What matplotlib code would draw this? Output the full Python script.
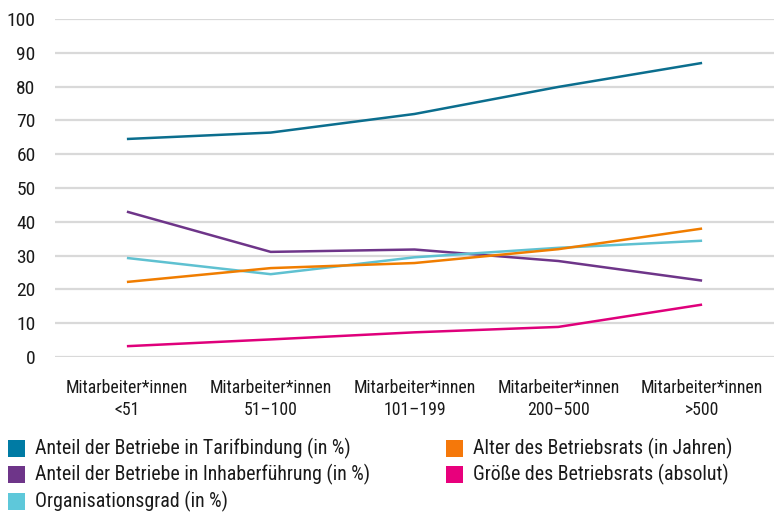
import matplotlib
matplotlib.use("Agg")
import matplotlib.pyplot as plt
from matplotlib.patches import Rectangle
from matplotlib import font_manager

names = {f.name for f in font_manager.fontManager.ttflist}
font = next((n for n in ["Roboto Condensed", "Archivo Narrow", "Asap Condensed",
                         "Barlow Semi Condensed", "Liberation Sans Narrow"] if n in names), "DejaVu Sans")
plt.rcParams["font.family"] = [font, "DejaVu Sans"]

categories = ["Mitarbeiter*innen\n<51", "Mitarbeiter*innen\n51–100", "Mitarbeiter*innen\n101–199",
              "Mitarbeiter*innen\n200–500", "Mitarbeiter*innen\n>500"]
tarif = [64.5, 66.4, 71.9, 79.9, 87.0]
inhaber = [43.0, 31.1, 31.8, 28.4, 22.6]
organisation = [29.3, 24.5, 29.5, 32.3, 34.4]
alter = [22.2, 26.3, 27.8, 31.9, 38.0]
groesse = [3.2, 5.2, 7.3, 8.9, 15.5]

series = [
    ("Anteil der Betriebe in Tarifbindung (in %)", tarif, "#0b6e8e", "#007ba4"),
    ("Anteil der Betriebe in Inhaberführung (in %)", inhaber, "#6e3589", "#6e3589"),
    ("Organisationsgrad (in %)", organisation, "#5fc1d1", "#5ec8da"),
    ("Alter des Betriebsrats (in Jahren)", alter, "#f07d00", "#f5780a"),
    ("Größe des Betriebsrats (absolut)", groesse, "#df007b", "#e8007c"),
]

W, H = 774, 514
fig = plt.figure(figsize=(W / 100, H / 100), dpi=100)
ax = fig.add_axes([55 / W, 1 - 357 / H, 1 - 55 / W, (357 - 19) / H])

x = range(len(categories))
for label, vals, color, _ in series:
    ax.plot(x, vals, color=color, lw=1.8, solid_capstyle="butt")

ax.set_xlim(-0.5, 4.5)
ax.set_ylim(0, 100)
ax.set_yticks(range(0, 101, 10))
ax.grid(axis="y", color="#d9d9d9", lw=1.6)
ax.set_axisbelow(True)
for s in ax.spines.values():
    s.set_visible(False)
ax.tick_params(axis="both", length=0, colors="#1a1a1a")
ax.tick_params(axis="y", pad=14, labelsize=14)
ax.set_xticks(list(x))
ax.set_xticklabels(categories, fontsize=12.8, linespacing=1.3)
ax.tick_params(axis="x", pad=16)

# legend: two columns, squares + labels
for i, (label, _, _, sq) in enumerate(series):
    col, row = divmod(i, 3)
    x0 = 8 + col * 438
    yc = 448.5 + row * 26.3
    fig.add_artist(Rectangle((x0 / W, 1 - (yc + 8.5) / H), 17 / W, 17 / H,
                             transform=fig.transFigure, facecolor=sq, edgecolor="none"))
    fig.text((x0 + 27) / W, 1 - yc / H, label, fontsize=14.3, va="center", ha="left",
             color="#1a1a1a")

fig.savefig("out.png", dpi=100)
